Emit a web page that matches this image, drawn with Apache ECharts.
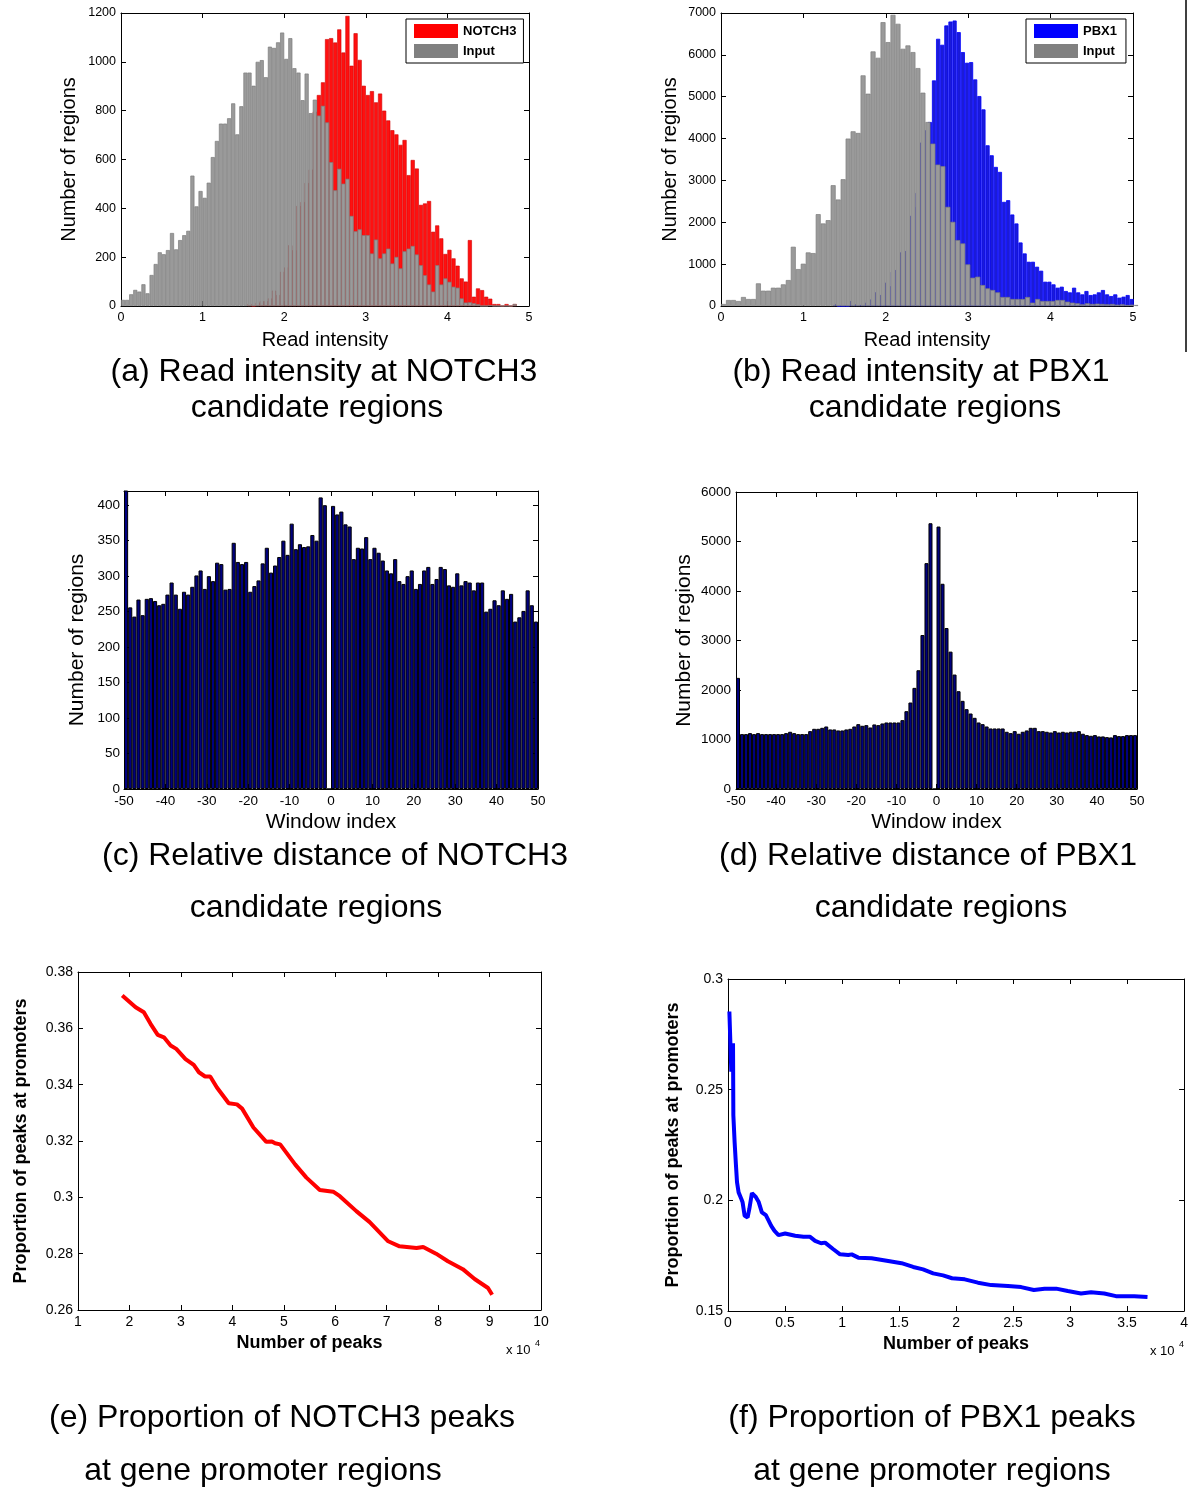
<!DOCTYPE html>
<html><head><meta charset="utf-8">
<script src="https://cdn.jsdelivr.net/npm/echarts@6/dist/echarts.min.js"></script>
<style>html,body{margin:0;padding:0;background:#fff}#c{width:1191px;height:1489px}</style>
</head><body><div id="c"></div>
<script>
// ---------------- DATA ----------------
// (a) histogram of read intensity, NOTCH3 ChIP (bins of 0.05 starting at 1.55)
const notch3Counts = [8,0,14,20,20,31,63,45,140,158,249,229,410,426,504,559,796,864,916,1093,1097,1079,1133,1038,1188,984,1117,1008,902,864,880,834,870,800,760,720,703,660,680,536,598,563,414,420,430,304,330,277,213,230,195,165,113,100,270,38,72,65,38,30,8,8,0,8,0,8];
const notch3BinStart = 1.55, notch3BinWidth = 0.05;
// (a) Input control (bins of 0.05 starting at 0)
const notch3InputCounts = [25,25,48,66,59,89,52,127,172,220,212,229,299,232,270,290,308,534,408,471,443,505,610,676,747,747,769,830,703,818,956,956,902,1000,1007,937,1062,1057,1080,1120,1012,1097,974,956,843,952,790,845,780,820,752,589,474,562,501,521,369,306,314,290,290,215,272,195,215,235,174,201,154,224,235,246,211,167,126,88,59,167,88,113,99,79,75,31,14,15,11,7,0,0,3,0,0,0,0,0,8];
const notch3InputBinStart = 0, notch3InputBinWidth = 0.05;
// (b) PBX1 ChIP (bins of 0.05 starting at 1.36)
const pbx1Counts = [48,0,0,0,119,40,24,80,159,159,326,262,556,477,819,859,1280,1312,2154,2369,2703,3903,4197,4396,5390,6384,6241,6702,6797,6821,6543,6066,5811,5827,5414,5016,4698,3840,3601,3323,3204,2488,2528,2186,1972,1518,1256,1057,1057,938,843,580,580,517,437,461,358,326,437,326,278,358,262,278,326,382,278,238,278,199,223,262,167];
const pbx1BinStart = 1.36, pbx1BinWidth = 0.05;
// (b) Input control
const pbx1InputCounts = [48,143,143,119,215,167,167,541,366,366,437,437,517,620,1415,882,1010,1280,1264,2194,1972,2051,2886,2544,3029,4000,4174,4134,5510,5072,6082,5930,6781,6304,6956,6742,6145,6225,6066,5684,5096,4396,3880,3379,3340,2369,2011,1574,1495,994,676,700,501,421,382,326,215,215,167,167,167,215,80,167,119,119,119,143,143,103,80,64,40,64,48,56,48,40,48,32,40,24,32,24,32];
const pbx1InputBinStart = 0, pbx1InputBinWidth = 0.0605;
// (c), (d) window index -50..49
const windowIndex = [];
for (let w = -50; w < 50; w++) windowIndex.push(w + 0.5);
const notch3WindowCounts = [430,256,243,267,245,268,269,265,259,261,274,291,274,254,278,274,285,301,308,282,300,293,319,317,281,282,347,320,317,320,278,286,294,318,340,305,315,327,350,330,374,338,345,341,342,358,350,411,400,0,399,387,391,373,370,324,340,339,355,324,340,333,322,308,304,324,293,289,300,308,282,289,308,313,289,296,313,310,287,285,304,287,293,291,280,291,291,250,254,266,259,280,268,275,236,242,251,280,259,236];
const pbx1WindowCounts = [2245,1109,1109,1129,1109,1129,1109,1109,1109,1109,1109,1109,1129,1156,1129,1109,1109,1109,1169,1216,1216,1236,1263,1203,1203,1183,1183,1203,1216,1263,1310,1277,1290,1243,1304,1290,1324,1344,1344,1344,1344,1391,1572,1747,2043,2399,3111,4563,5369,0,5302,4146,3252,2775,2312,1976,1781,1613,1525,1438,1344,1310,1263,1223,1223,1223,1223,1156,1129,1169,1116,1156,1183,1236,1236,1169,1169,1156,1142,1169,1142,1156,1142,1156,1156,1169,1116,1089,1075,1089,1062,1062,1048,1042,1089,1069,1069,1089,1089,1089];
// (e) NOTCH3 peaks (x 10^4) vs proportion at promoters
const notch3PeakNum = [1.86,2.12,2.28,2.41,2.55,2.67,2.80,2.91,3.09,3.25,3.35,3.47,3.57,3.70,3.93,4.09,4.19,4.41,4.66,4.77,4.83,4.93,5.22,5.44,5.70,5.96,6.09,6.41,6.67,7.03,7.25,7.58,7.71,7.96,8.19,8.48,8.71,8.97,9.05];
const notch3PromoterProp = [0.3717,0.3675,0.3657,0.3616,0.3577,0.3568,0.3539,0.3527,0.3491,0.3470,0.3444,0.3429,0.3429,0.3390,0.3334,0.3330,0.3315,0.3248,0.3197,0.3198,0.3192,0.3188,0.3117,0.3070,0.3026,0.3020,0.3004,0.2951,0.2912,0.2844,0.2826,0.2820,0.2824,0.2800,0.2773,0.2745,0.2710,0.2678,0.2654];
// (f) PBX1 peaks (x 10^4) vs proportion at promoters
const pbx1PeakNum = [0.012,0.026,0.029,0.044,0.047,0.058,0.070,0.079,0.093,0.117,0.128,0.146,0.172,0.187,0.210,0.245,0.268,0.297,0.332,0.379,0.408,0.443,0.501,0.589,0.662,0.720,0.764,0.816,0.851,0.924,0.983,1.055,1.085,1.143,1.259,1.405,1.522,1.624,1.711,1.799,1.886,1.965,2.076,2.192,2.309,2.455,2.571,2.682,2.776,2.878,2.980,3.096,3.184,3.300,3.402,3.563,3.679];
const pbx1PromoterProp = [0.2853,0.2853,0.2581,0.2710,0.2384,0.2263,0.2157,0.2082,0.2036,0.2006,0.1991,0.1930,0.1923,0.1961,0.2033,0.2014,0.1994,0.1946,0.1933,0.1885,0.1862,0.1843,0.1850,0.1840,0.1835,0.1835,0.1817,0.1806,0.1809,0.1779,0.1756,0.1753,0.1756,0.1741,0.1738,0.1726,0.1716,0.1699,0.1688,0.1670,0.1661,0.1648,0.1643,0.1628,0.1617,0.1613,0.1608,0.1595,0.1601,0.1601,0.1590,0.1579,0.1585,0.1579,0.1567,0.1567,0.1563];

const captionTexts = [
  '(a) Read intensity at NOTCH3', 'candidate regions',
  '(b) Read intensity at PBX1', 'candidate regions',
  '(c) Relative distance of NOTCH3', 'candidate regions',
  '(d) Relative distance of PBX1', 'candidate regions',
  '(e) Proportion of NOTCH3 peaks', 'at gene promoter regions',
  '(f) Proportion of PBX1 peaks', 'at gene promoter regions'
];

// ---------------- BUILD ----------------
const FONT = '"Liberation Sans", Arial, Helvetica, sans-serif';
const grids = [], xAxes = [], yAxes = [], series = [], legends = [], graphics = [];

function hist(vals, start, w) { return vals.map((v, i) => [start + (i + 0.5) * w, v]); }
function pairs(xs, ys) { return xs.map((x, i) => [x, ys[i]]); }
const plain = v => String(v);

function panel(p) {
  const gi = grids.length;
  grids.push({ left: p.left, top: p.top, width: p.width, height: p.height, containLabel: false });
  const tick = { show: true, inside: true, length: 5, lineStyle: { color: '#000', width: 1 } };
  const line = { show: true, onZero: false, lineStyle: { color: '#000', width: 1 } };
  const nameStyle = (s, bold) => ({ color: '#000', fontFamily: FONT, fontSize: s, fontWeight: bold ? 'bold' : 'normal' });
  const xb = xAxes.length;
  xAxes.push({
    gridIndex: gi, type: 'value', position: 'bottom', min: p.x.min, max: p.x.max, interval: p.x.interval,
    axisLine: line, axisTick: tick, splitLine: { show: false },
    axisLabel: { color: '#000', fontFamily: FONT, fontSize: p.fs, margin: 5, formatter: plain },
    name: p.x.name, nameLocation: 'middle', nameGap: p.x.gap, nameTextStyle: nameStyle(p.x.size, p.bold)
  });
  xAxes.push({
    gridIndex: gi, type: 'value', position: 'top', min: p.x.min, max: p.x.max, interval: p.x.interval,
    axisLine: line, axisTick: tick, splitLine: { show: false }, axisLabel: { show: false }
  });
  const yl = yAxes.length;
  yAxes.push({
    gridIndex: gi, type: 'value', position: 'left', min: p.y.min, max: p.y.max, interval: p.y.interval,
    axisLine: line, axisTick: tick, splitLine: { show: false },
    axisLabel: { color: '#000', fontFamily: FONT, fontSize: p.fs, margin: p.y.margin || 5, showMaxLabel: p.y.showMax !== false, formatter: plain },
    name: p.y.name, nameLocation: 'middle', nameGap: p.y.gap, nameTextStyle: nameStyle(p.y.size, p.bold)
  });
  yAxes.push({
    gridIndex: gi, type: 'value', position: 'right', min: p.y.min, max: p.y.max, interval: p.y.interval,
    axisLine: line, axisTick: tick, splitLine: { show: false }, axisLabel: { show: false }
  });
  return { xb: xb, xt: xb + 1, yl: yl };
}

// (a)
const A = panel({ left: 121, top: 13, width: 408, height: 293, fs: 12.5,
  x: { min: 0, max: 5, interval: 1, name: 'Read intensity', gap: 24, size: 20 },
  y: { min: 0, max: 1200, interval: 200, name: 'Number of regions', gap: 42, size: 20 } });
series.push({ type: 'bar', name: 'NOTCH3', xAxisIndex: A.xb, yAxisIndex: A.yl, barWidth: '100%',
  data: hist(notch3Counts, notch3BinStart, notch3BinWidth),
  itemStyle: { color: '#ff1010', borderColor: '#d00000', borderWidth: 0.6 } });
series.push({ type: 'bar', name: 'Input', xAxisIndex: A.xt, yAxisIndex: A.yl, barWidth: '100%',
  data: hist(notch3InputCounts, notch3InputBinStart, notch3InputBinWidth),
  itemStyle: { color: '#9a9a9a', borderColor: '#7c7c7c', borderWidth: 0.7 } });

// (b)
const B = panel({ left: 721, top: 13, width: 412, height: 293, fs: 12.5,
  x: { min: 0, max: 5, interval: 1, name: 'Read intensity', gap: 24, size: 20 },
  y: { min: 0, max: 7000, interval: 1000, name: 'Number of regions', gap: 41, size: 20 } });
series.push({ type: 'bar', name: 'PBX1', xAxisIndex: B.xb, yAxisIndex: B.yl, barWidth: '100%',
  data: hist(pbx1Counts, pbx1BinStart, pbx1BinWidth),
  itemStyle: { color: '#1c1cd6', borderColor: '#0000ff', borderWidth: 0.8 } });
series.push({ type: 'bar', name: 'Input', xAxisIndex: B.xt, yAxisIndex: B.yl, barWidth: '100%',
  data: hist(pbx1InputCounts, pbx1InputBinStart, pbx1InputBinWidth),
  itemStyle: { color: '#9a9a9a', borderColor: '#7c7c7c', borderWidth: 0.7 } });

// (c)
const C = panel({ left: 124, top: 491, width: 414, height: 298, fs: 13.5,
  x: { min: -50, max: 50, interval: 10, name: 'Window index', gap: 23, size: 21 },
  y: { min: 0, max: 420, interval: 50, name: 'Number of regions', gap: 36, size: 21, showMax: false, margin: 4 } });
series.push({ type: 'bar', name: 'NOTCH3 windows', xAxisIndex: C.xb, yAxisIndex: C.yl, barWidth: '100%',
  data: pairs(windowIndex, notch3WindowCounts),
  itemStyle: { color: '#00007f', borderColor: '#000', borderWidth: 1 } });

// (d)
const D = panel({ left: 736, top: 492, width: 401, height: 297, fs: 13.5,
  x: { min: -50, max: 50, interval: 10, name: 'Window index', gap: 23, size: 21 },
  y: { min: 0, max: 6000, interval: 1000, name: 'Number of regions', gap: 41, size: 21 } });
series.push({ type: 'bar', name: 'PBX1 windows', xAxisIndex: D.xb, yAxisIndex: D.yl, barWidth: '100%',
  data: pairs(windowIndex, pbx1WindowCounts),
  itemStyle: { color: '#00007f', borderColor: '#000', borderWidth: 1 } });

// (e)
const E = panel({ left: 78, top: 972, width: 463, height: 338, fs: 14, bold: true,
  x: { min: 1, max: 10, interval: 1, name: 'Number of peaks', gap: 24, size: 18 },
  y: { min: 0.26, max: 0.38, interval: 0.02, name: 'Proportion of peaks at promoters', gap: 48, size: 18 } });
series.push({ type: 'line', name: 'NOTCH3 proportion', xAxisIndex: E.xb, yAxisIndex: E.yl,
  data: pairs(notch3PeakNum, notch3PromoterProp), showSymbol: false, symbol: 'none',
  lineStyle: { color: '#ff0000', width: 4 } });

// (f)
const F = panel({ left: 728, top: 979, width: 457, height: 332, fs: 14, bold: true,
  x: { min: 0, max: 4, interval: 0.5, name: 'Number of peaks', gap: 24, size: 18 },
  y: { min: 0.15, max: 0.3, interval: 0.05, name: 'Proportion of peaks at promoters', gap: 46, size: 18 } });
series.push({ type: 'line', name: 'PBX1 proportion', xAxisIndex: F.xb, yAxisIndex: F.yl,
  data: pairs(pbx1PeakNum, pbx1PromoterProp), showSymbol: false, symbol: 'none',
  lineStyle: { color: '#0000ff', width: 4 } });

// legends
const legendBase = {
  orient: 'vertical', icon: 'rect', itemWidth: 44, itemHeight: 14, itemGap: 6,
  borderColor: '#000', borderWidth: 1, backgroundColor: '#fff', selectedMode: false,
  textStyle: { fontFamily: FONT, fontSize: 13, fontWeight: 'bold', color: '#000' }
};
legends.push(Object.assign({}, legendBase, { left: 406, top: 19, padding: [5, 7, 5, 8],
  data: [{ name: 'NOTCH3', itemStyle: { color: '#ff0000', borderWidth: 0 } }, { name: 'Input', itemStyle: { color: '#808080', borderWidth: 0 } }] }));
legends.push(Object.assign({}, legendBase, { left: 1026, top: 19, padding: [5, 9, 5, 8],
  data: [{ name: 'PBX1', itemStyle: { color: '#0000ff', borderWidth: 0 } }, { name: 'Input', itemStyle: { color: '#808080', borderWidth: 0 } }] }));

// captions
const captionPos = [[324, 372], [317, 408], [921, 372], [935, 408], [335, 856], [316, 908],
  [928, 856], [941, 908], [282, 1418], [263, 1471], [932, 1418], [932, 1471]];
captionTexts.forEach((t, i) => {
  graphics.push({ type: 'text', x: captionPos[i][0], y: captionPos[i][1], silent: true,
    style: { text: t, fontFamily: FONT, fontSize: 32, fill: '#000', align: 'center', verticalAlign: 'middle' } });
});
// x 10^4 multipliers
[[506, 1350, 535, 1344], [1150, 1351, 1179, 1345]].forEach(m => {
  graphics.push({ type: 'text', x: m[0], y: m[1], silent: true,
    style: { text: 'x 10', fontFamily: FONT, fontSize: 13, fill: '#000', align: 'left', verticalAlign: 'middle' } });
  graphics.push({ type: 'text', x: m[2], y: m[3], silent: true,
    style: { text: '4', fontFamily: FONT, fontSize: 9, fill: '#000', align: 'left', verticalAlign: 'middle' } });
});
// separator line at right edge
graphics.push({ type: 'line', silent: true, shape: { x1: 1186, y1: 0, x2: 1186, y2: 352 }, style: { stroke: '#000', lineWidth: 1.5 } });

const chart = echarts.init(document.getElementById('c'), null, { renderer: 'canvas' });
chart.setOption({
  animation: false,
  backgroundColor: '#fff',
  grid: grids, xAxis: xAxes, yAxis: yAxes, series: series, legend: legends, graphic: graphics
});
</script></body></html>
